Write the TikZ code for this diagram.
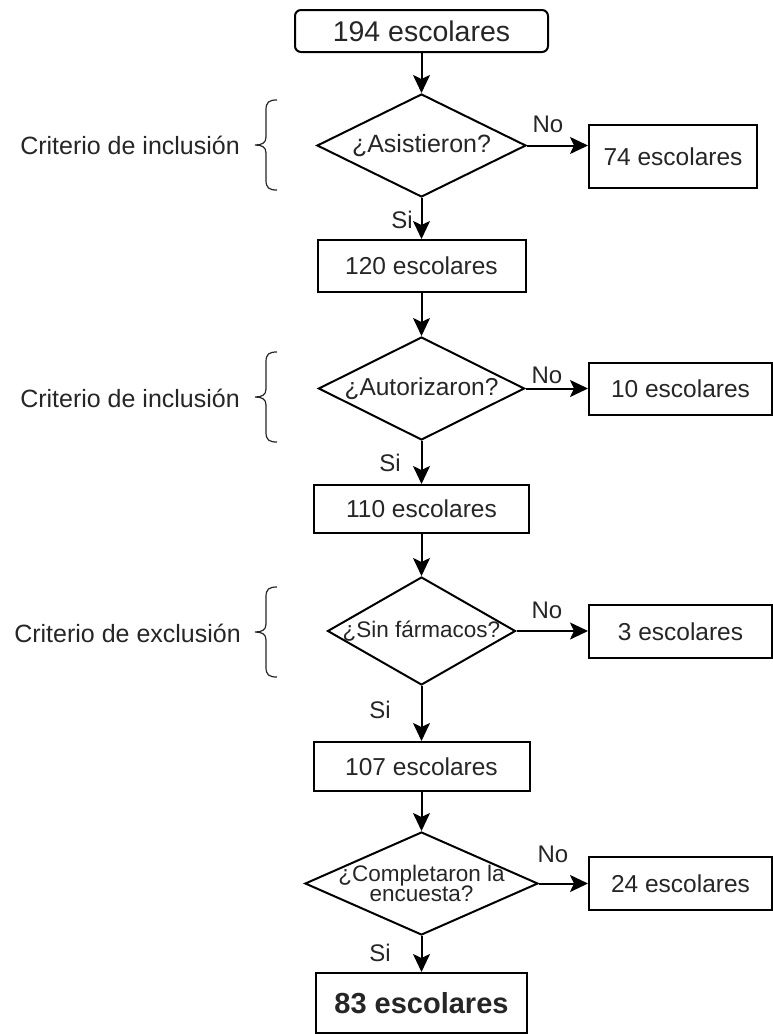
\documentclass[tikz,border=0pt]{standalone}
\usepackage{fontspec}
\setmainfont{Liberation Sans}
\usetikzlibrary{shapes.geometric,arrows.meta}
\tikzset{
  base/.style={draw=black,line width=2pt,text=black!85,inner sep=0pt},
  boxn/.style={base,rectangle,font=\fontsize{24.5}{28}\selectfont},
  dia/.style={base,diamond,aspect=2},
  lbl/.style={text=black!85,font=\fontsize{24}{28}\selectfont,inner sep=0pt},
  crit/.style={text=black!85,font=\fontsize{25}{28}\selectfont,inner sep=0pt,anchor=east},
  flow/.style={line width=2pt,-{Stealth[length=18pt,width=17pt,inset=4pt]}},
  brc/.style={line width=1.2pt,black!85}
}
\newcommand{\mybrace}[3]{% x top bottom
  \draw[brc] (#1,#2) .. controls (#1-8,#2) and (#1-11,#2+2) .. (#1-11,#2+10)
    -- (#1-11,{(#2+#3)/2-8}) .. controls (#1-11,{(#2+#3)/2-2}) and (#1-15,{(#2+#3)/2}) .. (#1-22,{(#2+#3)/2})
    .. controls (#1-15,{(#2+#3)/2}) and (#1-11,{(#2+#3)/2+2}) .. (#1-11,{(#2+#3)/2+8})
    -- (#1-11,#3-10) .. controls (#1-11,#3-2) and (#1-8,#3) .. (#1,#3);}
\begin{document}
\begin{tikzpicture}[x=1pt,y=-1pt]
\useasboundingbox[fill=white] (0,0) rectangle (773,1034);
% flow nodes
\node[boxn,rounded corners=6pt,minimum width=253pt,minimum height=42pt,font=\fontsize{28.5}{32}\selectfont] (top) at (421.5,31) {194 escolares};
\node[dia,minimum width=209pt,minimum height=103pt,label={[text=black!85,font=\fontsize{25}{28}\selectfont]center:¿Asistieron?}] (d1) at (421.5,145.5) {};
\node[boxn,minimum width=168pt,minimum height=63pt] (b74) at (673,156.5) {74 escolares};
\node[boxn,minimum width=208pt,minimum height=52pt] (b120) at (421.5,266) {120 escolares};
\node[dia,minimum width=206pt,minimum height=103pt,label={[text=black!85,font=\fontsize{24.5}{28}\selectfont]center:¿Autorizaron?}] (d2) at (421.5,388.5) {};
\node[boxn,minimum width=183pt,minimum height=52pt] (b10) at (680.5,389) {10 escolares};
\node[boxn,minimum width=215pt,minimum height=48pt] (b110) at (421.5,509) {110 escolares};
\node[dia,minimum width=188pt,minimum height=108pt,label={[text=black!85,font=\fontsize{22.5}{26}\selectfont]center:¿Sin fármacos?}] (d3) at (421.5,631) {};
\node[boxn,minimum width=183pt,minimum height=53pt] (b3) at (680.5,631.5) {3 escolares};
\node[boxn,minimum width=216pt,minimum height=49pt] (b107) at (421.5,766.5) {107 escolares};
\node[dia,minimum width=233pt,minimum height=103pt,label={[text=black!85,font=\fontsize{22.5}{20.5}\selectfont,align=center]center:¿Completaron la\\encuesta?}] (d4) at (421.5,883.5) {};
\node[boxn,minimum width=183pt,minimum height=53pt] (b24) at (680.5,883.5) {24 escolares};
\node[boxn,minimum width=211pt,minimum height=60pt,font=\fontsize{29}{32}\selectfont\bfseries] (b83) at (421.5,1003) {83 escolares};
% vertical arrows
\draw[flow] (top) -- (d1);
\draw[flow] (d1) -- (b120);
\draw[flow] (b120) -- (d2);
\draw[flow] (d2) -- (b110);
\draw[flow] (b110) -- (d3);
\draw[flow] (d3) -- (b107);
\draw[flow] (b107) -- (d4);
\draw[flow] (d4) -- (b83);
% horizontal arrows
\draw[flow] (d1.east) -- (d1.east -| b74.west);
\draw[flow] (d2.east) -- (d2.east -| b10.west);
\draw[flow] (d3.east) -- (d3.east -| b3.west);
\draw[flow] (d4.east) -- (d4.east -| b24.west);
% labels
\node[lbl] (no1) at (548,124) {No};
\node[lbl] (no2) at (547,375) {No};
\node[lbl] (no3) at (547,610) {No};
\node[lbl] (no4) at (553,854) {No};
\node[lbl] (si1) at (402,220) {Si};
\node[lbl] (si2) at (390,463) {Si};
\node[lbl] (si3) at (380,710) {Si};
\node[lbl] (si4) at (380,953) {Si};
% criteria
\node[crit] (c1) at (240,145) {Criterio de inclusión};
\node[crit] (c2) at (240,398) {Criterio de inclusión};
\node[crit] (c3) at (241,633) {Criterio de exclusión};
\mybrace{277}{100}{190}
\mybrace{277}{352}{442}
\mybrace{277}{587}{677}
\end{tikzpicture}
\end{document}
